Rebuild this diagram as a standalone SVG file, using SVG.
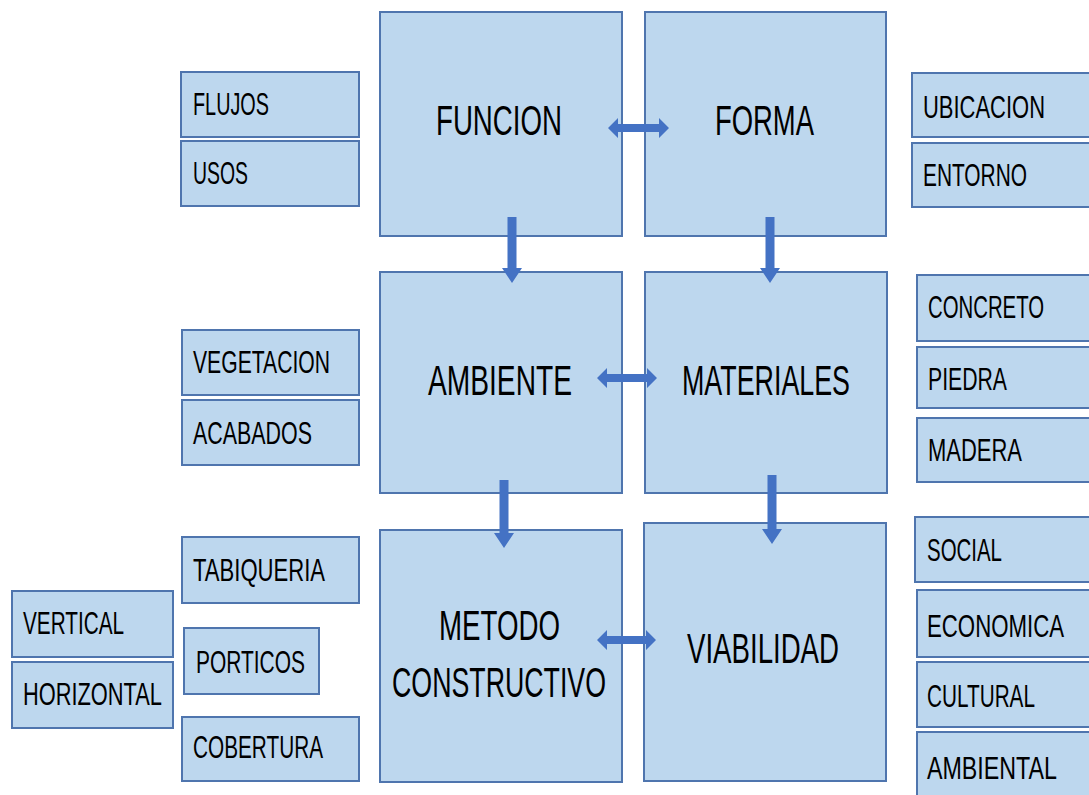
<svg xmlns="http://www.w3.org/2000/svg" width="1089" height="795" viewBox="0 0 1089 795">
<defs>
<style>
.box{fill:#BDD7EE;stroke:#4F75AE;stroke-width:2}
.fill{fill:#BDD7EE}
.edge{fill:none;stroke:#4F75AE;stroke-width:2}
.big{font-family:"Liberation Sans Narrow","Liberation Sans",Arial,sans-serif;font-size:43px;fill:#000}
.sm{font-family:"Liberation Sans Narrow","Liberation Sans",Arial,sans-serif;font-size:31px;fill:#000}
.arr{fill:#4472C4}
</style>
</defs>
<rect width="1089" height="795" fill="#fff"/>
<g id="funcion"><rect class="box" x="380" y="12" width="242" height="224"/><text class="big" x="436" y="135" textLength="126" lengthAdjust="spacingAndGlyphs">FUNCION</text></g>
<g id="forma"><rect class="box" x="645" y="12" width="241" height="224"/><text class="big" x="715" y="135" textLength="99" lengthAdjust="spacingAndGlyphs">FORMA</text></g>
<g id="ambiente"><rect class="box" x="380" y="272" width="242" height="221"/><text class="big" x="428" y="395" textLength="144" lengthAdjust="spacingAndGlyphs">AMBIENTE</text></g>
<g id="materiales"><rect class="box" x="645" y="272" width="242" height="221"/><text class="big" x="682" y="395" textLength="168" lengthAdjust="spacingAndGlyphs">MATERIALES</text></g>
<g id="metodo"><rect class="box" x="380" y="530" width="242" height="252"/><text class="big" x="439" y="640" textLength="121" lengthAdjust="spacingAndGlyphs">METODO</text><text class="big" x="392" y="697" textLength="214" lengthAdjust="spacingAndGlyphs">CONSTRUCTIVO</text></g>
<g id="viabilidad"><rect class="box" x="644" y="523" width="242" height="258"/><text class="big" x="687" y="663" textLength="152" lengthAdjust="spacingAndGlyphs">VIABILIDAD</text></g>

<g id="flujos"><rect class="box" x="181" y="72" width="178" height="65"/><text class="sm" x="193" y="115" textLength="76" lengthAdjust="spacingAndGlyphs">FLUJOS</text></g>
<g id="usos"><rect class="box" x="181" y="141" width="178" height="65"/><text class="sm" x="193" y="184" textLength="55" lengthAdjust="spacingAndGlyphs">USOS</text></g>
<g id="vegetacion"><rect class="box" x="182" y="330" width="177" height="65"/><text class="sm" x="193" y="373" textLength="137" lengthAdjust="spacingAndGlyphs">VEGETACION</text></g>
<g id="acabados"><rect class="box" x="182" y="400" width="177" height="65"/><text class="sm" x="193" y="444" textLength="119" lengthAdjust="spacingAndGlyphs">ACABADOS</text></g>
<g id="tabiqueria"><rect class="box" x="182" y="537" width="177" height="66"/><text class="sm" x="193" y="581" textLength="132" lengthAdjust="spacingAndGlyphs">TABIQUERIA</text></g>
<g id="porticos"><rect class="box" x="184" y="628" width="135" height="66"/><text class="sm" x="196" y="673" textLength="109" lengthAdjust="spacingAndGlyphs">PORTICOS</text></g>
<g id="cobertura"><rect class="box" x="182" y="717" width="177" height="64"/><text class="sm" x="193" y="758" textLength="130" lengthAdjust="spacingAndGlyphs">COBERTURA</text></g>
<g id="vertical"><rect class="box" x="12" y="591" width="161" height="66"/><text class="sm" x="23" y="634" textLength="101" lengthAdjust="spacingAndGlyphs">VERTICAL</text></g>
<g id="horizontal"><rect class="box" x="12" y="662" width="161" height="66"/><text class="sm" x="23" y="705" textLength="139" lengthAdjust="spacingAndGlyphs">HORIZONTAL</text></g>

<g id="ubicacion"><rect class="fill" x="912" y="73" width="177" height="64"/><path class="edge" d="M1089,73 H912 V137 H1089"/><text class="sm" x="923" y="118" textLength="122" lengthAdjust="spacingAndGlyphs">UBICACION</text></g>
<g id="entorno"><rect class="fill" x="912" y="143" width="177" height="64"/><path class="edge" d="M1089,143 H912 V207 H1089"/><text class="sm" x="923" y="186" textLength="104" lengthAdjust="spacingAndGlyphs">ENTORNO</text></g>
<g id="concreto"><rect class="fill" x="917" y="275" width="172" height="66"/><path class="edge" d="M1089,275 H917 V341 H1089"/><text class="sm" x="928" y="318" textLength="116" lengthAdjust="spacingAndGlyphs">CONCRETO</text></g>
<g id="piedra"><rect class="fill" x="917" y="347" width="172" height="61"/><path class="edge" d="M1089,347 H917 V408 H1089"/><text class="sm" x="928" y="390" textLength="79" lengthAdjust="spacingAndGlyphs">PIEDRA</text></g>
<g id="madera"><rect class="fill" x="917" y="418" width="172" height="64"/><path class="edge" d="M1089,418 H917 V482 H1089"/><text class="sm" x="928" y="461" textLength="94" lengthAdjust="spacingAndGlyphs">MADERA</text></g>
<g id="social"><rect class="fill" x="915" y="517" width="174" height="65"/><path class="edge" d="M1089,517 H915 V582 H1089"/><text class="sm" x="927" y="561" textLength="75" lengthAdjust="spacingAndGlyphs">SOCIAL</text></g>
<g id="economica"><rect class="fill" x="917" y="590" width="172" height="67"/><path class="edge" d="M1089,590 H917 V657 H1089"/><text class="sm" x="927" y="637" textLength="137" lengthAdjust="spacingAndGlyphs">ECONOMICA</text></g>
<g id="cultural"><rect class="fill" x="917" y="662" width="172" height="65"/><path class="edge" d="M1089,662 H917 V727 H1089"/><text class="sm" x="927" y="707" textLength="108" lengthAdjust="spacingAndGlyphs">CULTURAL</text></g>
<g id="ambiental"><rect class="fill" x="917" y="732" width="172" height="63"/><path class="edge" d="M1089,732 H917 V795"/><text class="sm" x="927" y="779" textLength="130" lengthAdjust="spacingAndGlyphs">AMBIENTAL</text></g>

<g id="connectors">
<path class="arr" d="M507.5,217 H516.5 V268 H522 L512,283 L502,268 H507.5 Z"/>
<path class="arr" d="M765.5,217 H774.5 V268 H780 L770,283 L760,268 H765.5 Z"/>
<path class="arr" d="M499.5,480 H508.5 V533 H514 L504,548 L494,533 H499.5 Z"/>
<path class="arr" d="M767.5,475 H776.5 V529 H782 L772,544 L762,529 H767.5 Z"/>
<path class="arr" d="M608,128 L618,118 V124 H659 V118 L669,128 L659,138 V132 H618 V138 Z"/>
<path class="arr" d="M597,378 L607,368 V374 H647 V368 L657,378 L647,388 V382 H607 V388 Z"/>
<path class="arr" d="M597,640 L607,630 V636 H646 V630 L656,640 L646,650 V644 H607 V650 Z"/>
</g>
</svg>
